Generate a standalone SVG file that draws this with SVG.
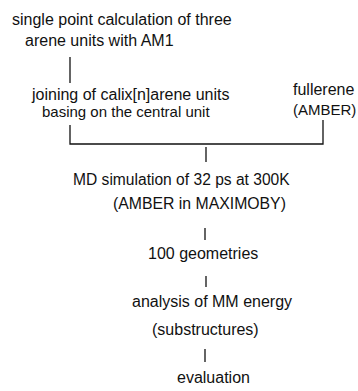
<svg xmlns="http://www.w3.org/2000/svg" width="358" height="391" viewBox="0 0 358 391">
<style>
text{font-family:"Liberation Sans",Arial,sans-serif;font-size:16px;fill:#111}
.s{font-size:15px}
.conn{stroke:#111;stroke-width:1.3;fill:none}
</style>
<rect width="358" height="391" fill="#fff"/>
<g id="n1"><text x="12" y="25">single point calculation of three</text><text x="25" y="46">arene units with AM1</text></g>
<g id="n2"><text x="32" y="100">joining of calix[n]arene units</text><text class="s" x="42" y="117">basing on the central unit</text></g>
<g id="n3"><text x="293" y="95">fullerene</text><text class="s" x="293" y="115">(AMBER)</text></g>
<g id="n4"><text x="73" y="185" style="font-size:15.6px">MD simulation of 32 ps at 300K</text><text x="113" y="209" style="font-size:15.8px">(AMBER in MAXIMOBY)</text></g>
<g id="n5"><text x="148" y="259">100 geometries</text></g>
<g id="n6"><text x="132" y="307">analysis of MM energy</text><text x="152" y="335">(substructures)</text></g>
<g id="n7"><text x="177" y="383">evaluation</text></g>
<g id="connectors" class="conn">
<path d="M70 57V83"/>
<path d="M70 125V144H323V120"/>
<path d="M206 147V162"/>
<path d="M205 228V240"/>
<path d="M206 276V287"/>
<path d="M205 349V362"/>
</g>
</svg>
